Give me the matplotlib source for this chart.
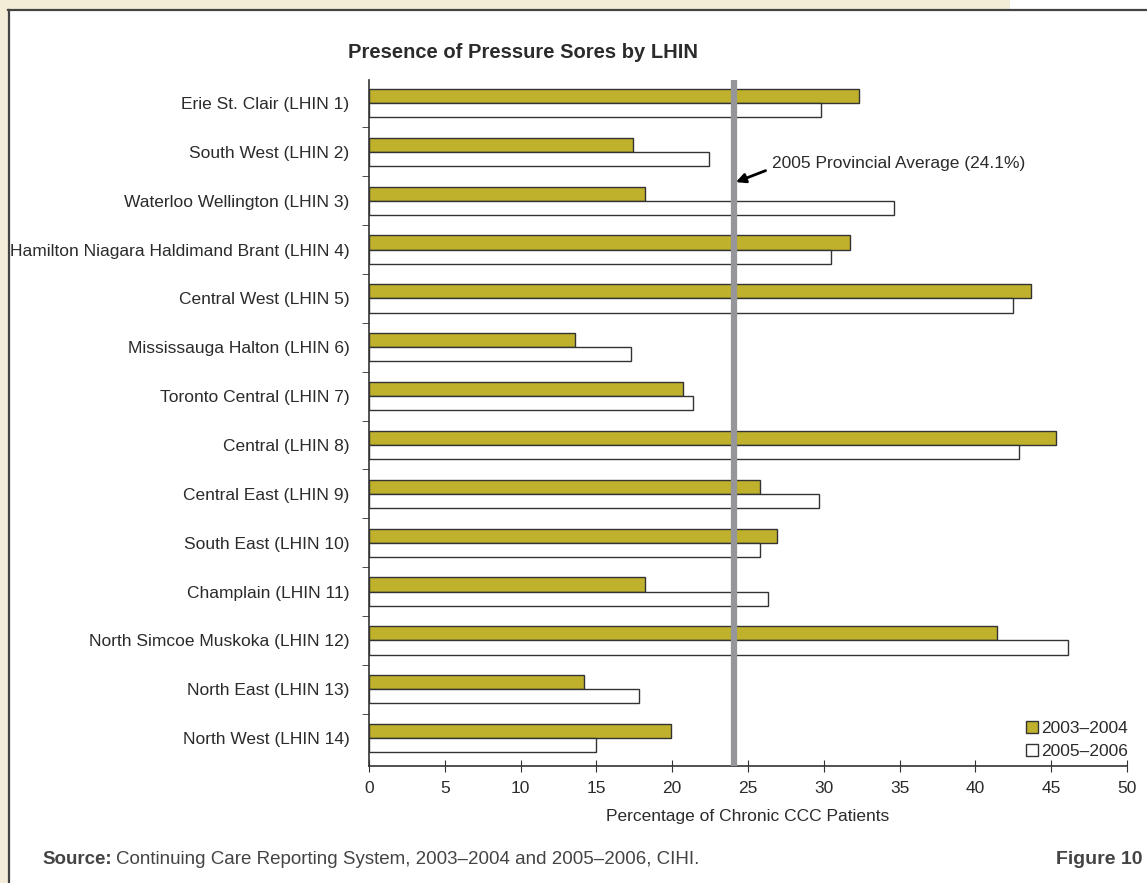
import matplotlib.pyplot as plt
from matplotlib.patches import Rectangle
from matplotlib.lines import Line2D

plt.rcParams['font.family'] = ['Liberation Sans Narrow', 'DejaVu Sans Condensed', 'Liberation Sans', 'DejaVu Sans']

regions = [
    "Erie St. Clair (LHIN 1)",
    "South West (LHIN 2)",
    "Waterloo Wellington (LHIN 3)",
    "Hamilton Niagara Haldimand Brant (LHIN 4)",
    "Central West (LHIN 5)",
    "Mississauga Halton (LHIN 6)",
    "Toronto Central (LHIN 7)",
    "Central (LHIN 8)",
    "Central East (LHIN 9)",
    "South East (LHIN 10)",
    "Champlain (LHIN 11)",
    "North Simcoe Muskoka (LHIN 12)",
    "North East (LHIN 13)",
    "North West (LHIN 14)",
]
y2003 = [32.3, 17.4, 18.2, 31.7, 43.7, 13.6, 20.7, 45.3, 25.8, 26.9, 18.2, 41.4, 14.2, 19.9]
y2005 = [29.8, 22.4, 34.6, 30.5, 42.5, 17.3, 21.4, 42.9, 29.7, 25.8, 26.3, 46.1, 17.8, 15.0]
prov_avg = 24.1

W, H = 1147, 883
fig = plt.figure(figsize=(W / 100, H / 100), dpi=100)
fig.patch.set_facecolor('white')

# cream page margin and the panel border
cream = '#f3edd8'
fig.add_artist(Rectangle((0, 0), 8 / W, 1, transform=fig.transFigure, color=cream, lw=0))
fig.add_artist(Rectangle((0, 1 - 9 / H), 1010 / W, 9 / H, transform=fig.transFigure, color=cream, lw=0))
fig.add_artist(Line2D([8 / W, 1], [1 - 9.5 / H, 1 - 9.5 / H], transform=fig.transFigure, color='#444444', lw=1.6))
fig.add_artist(Line2D([8.5 / W, 8.5 / W], [0, 1 - 9.5 / H], transform=fig.transFigure, color='#444444', lw=1.6))

ax = fig.add_axes([369 / W, 117 / H, 758 / W, 686 / H])
txt = '#2b2b2b'
gold = '#bfb12c'
fs = 12.5
h = 0.29
pos = list(range(len(regions)))
ax.barh([p - h / 2 for p in pos], y2003, height=h, color=gold, edgecolor='#333333', lw=1.0, label='2003–2004')
ax.barh([p + h / 2 for p in pos], y2005, height=h, color='white', edgecolor='#333333', lw=1.0, label='2005–2006')

ax.axvline(prov_avg, color='#96969a', lw=4.5, zorder=3)
ax.annotate('2005 Provincial Average (24.1%)', xy=(prov_avg + 0.1, 1.62), xytext=(26.6, 1.24),
            fontsize=fs, color=txt, va='center', ha='left',
            arrowprops=dict(arrowstyle='-|>', color='black', lw=2, relpos=(0, 0.2),
                            shrinkA=3, shrinkB=0, mutation_scale=14))

ax.set_xlim(0, 50)
ax.set_ylim(len(regions) - 0.43, -0.47)
ax.set_xticks(range(0, 51, 5))
ax.set_yticks(pos)
ax.set_yticklabels(regions)
ax.set_yticks([p + 0.5 for p in pos[:-1]], minor=True)
ax.tick_params(axis='y', which='major', length=0, pad=14, labelsize=fs, labelcolor=txt)
ax.tick_params(axis='y', which='minor', length=5, direction='out', color='#333333')
ax.tick_params(axis='x', direction='inout', length=9, labelsize=fs, labelcolor=txt, pad=6, color='#333333')
for s in ['top', 'right']:
    ax.spines[s].set_visible(False)
for s in ['left', 'bottom']:
    ax.spines[s].set_color('#333333')
    ax.spines[s].set_linewidth(1.2)
ax.set_xlabel('Percentage of Chronic CCC Patients', fontsize=fs, color=txt, labelpad=10)

leg = ax.legend(loc='lower right', bbox_to_anchor=(1.01, 0.0), frameon=False, fontsize=fs,
                handlelength=0.7, handleheight=0.7, handletextpad=0.15, labelspacing=0.45, borderaxespad=0)
for t in leg.get_texts():
    t.set_color(txt)

fig.text(348 / W, 1 - 52 / H, 'Presence of Pressure Sores by LHIN', fontsize=14.5, fontweight='bold',
         color=txt, va='center', ha='left')
src = fig.text(42 / W, 1 - 860 / H, 'Source:', fontsize=13.5, fontweight='bold', color='#444444', va='center',
               family=['Liberation Sans', 'DejaVu Sans'])
fig.canvas.draw()
bb = src.get_window_extent()
fig.text((bb.x1 + 4) / W, 1 - 860 / H, 'Continuing Care Reporting System, 2003–2004 and 2005–2006, CIHI.',
         fontsize=13.5, color='#444444', va='center', family=['Liberation Sans', 'DejaVu Sans'])
fig.text(1142 / W, 1 - 860 / H, 'Figure 10', fontsize=14, fontweight='bold', color='#444444', va='center',
         ha='right', family=['Liberation Sans', 'DejaVu Sans'])

fig.savefig('out.png', dpi=100)
